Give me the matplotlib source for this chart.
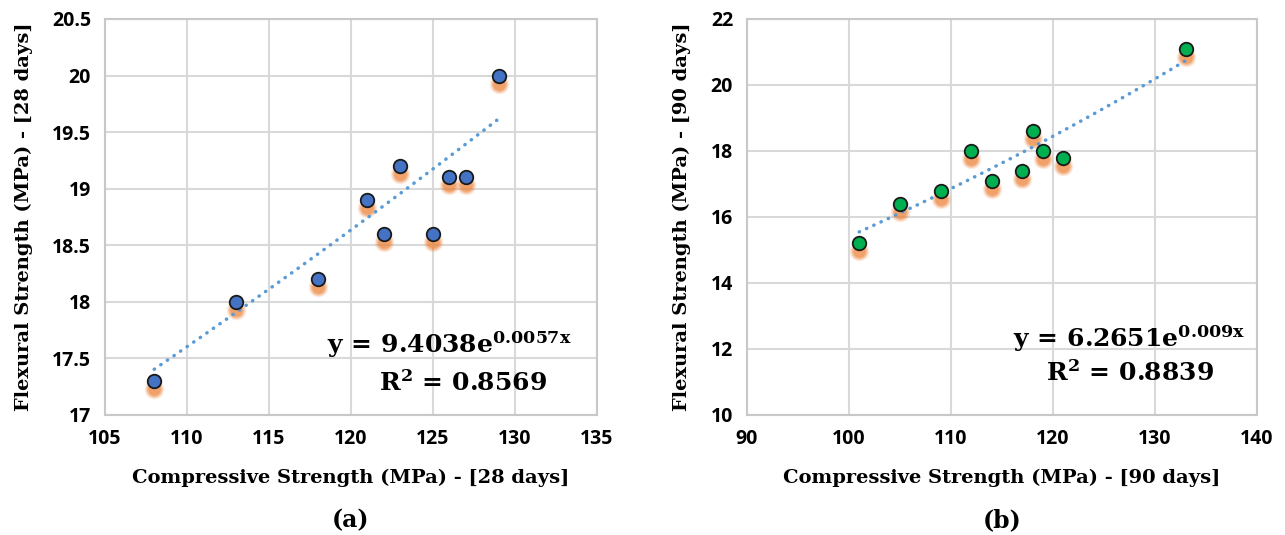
import numpy as np
import matplotlib
matplotlib.use("Agg")
import matplotlib.pyplot as plt
from matplotlib.transforms import ScaledTranslation

plt.rcParams['mathtext.fontset'] = 'custom'
plt.rcParams['mathtext.rm'] = 'DejaVu Serif:bold'
plt.rcParams['mathtext.bf'] = 'DejaVu Serif:bold'

# 28 days
comp_28 = [108, 113, 118, 121, 122, 123, 125, 126, 127, 129]
flex_28 = [17.3, 18.0, 18.2, 18.9, 18.6, 19.2, 18.6, 19.1, 19.1, 20.0]
a_28, b_28 = 9.4038, 0.0057

# 90 days
comp_90 = [101, 105, 109, 112, 114, 117, 118, 119, 121, 133]
flex_90 = [15.2, 16.4, 16.8, 18.0, 17.1, 17.4, 18.6, 18.0, 17.8, 21.1]
a_90, b_90 = 6.2651, 0.009

xticks_28 = [105, 110, 115, 120, 125, 130, 135]
yticks_28 = [17, 17.5, 18, 18.5, 19, 19.5, 20, 20.5]
xticks_90 = [90, 100, 110, 120, 130, 140]
yticks_90 = [10, 12, 14, 16, 18, 20, 22]

fig = plt.figure(figsize=(12.85, 5.35), dpi=100)
ax1 = fig.add_axes([105/1285, 1-415/535, 492/1285, 396/535])
ax2 = fig.add_axes([747/1285, 1-415/535, 510/1285, 396/535])

tick_font = dict(family='Open Sans', weight='bold', size=14)
lab_font = dict(family='DejaVu Serif', weight='bold', size=14)


def panel(ax, xs, ys, a, b, color, xticks, yticks, xlab, ylab, eq, r2, eqpos, r2pos, ylab_x, tag):
    ax.set_xlim(xticks[0], xticks[-1])
    ax.set_ylim(yticks[0], yticks[-1])
    ax.set_xticks(xticks)
    ax.set_yticks(yticks)
    ax.set_xticklabels([str(t) for t in xticks], **tick_font)
    ax.set_yticklabels([('%g' % t) for t in yticks], **tick_font)
    ax.tick_params(length=0, pad=10)
    ax.grid(True, color='#D9D9D9', linewidth=1.5)
    ax.set_axisbelow(True)
    for s in ax.spines.values():
        s.set_color('#C8C8C8')
        s.set_linewidth(1.5)

    # orange blurred shadow
    shift = ax.transData + ScaledTranslation(0, -8/100, fig.dpi_scale_trans)
    for sz, al in [(200, 0.14), (155, 0.22), (115, 0.3), (80, 0.4)]:
        ax.scatter(xs, ys, s=sz, color='#ED7D31', alpha=al, linewidths=0,
                   transform=shift, zorder=2)

    xt = np.linspace(min(xs), max(xs), 100)
    ax.plot(xt, a*np.exp(b*xt), color='#5B9BD5', linewidth=2.5,
            linestyle=(0, (0.1, 2.2)), dash_capstyle='round', zorder=3)

    ax.scatter(xs, ys, s=95, color=color, edgecolors='#1a1a1a',
               linewidths=1.3, zorder=4)

    ax.text(eqpos[0], eqpos[1], eq, fontsize=18, ha='center', va='center', zorder=5)
    ax.text(r2pos[0], r2pos[1], r2, fontsize=18, ha='center', va='center', zorder=5)

    ax.text(0.5, -0.159, xlab, transform=ax.transAxes, ha='center', va='center', **lab_font)
    ax.text(ylab_x, 0.5, ylab, transform=ax.transAxes, ha='center', va='center',
            rotation=90, **lab_font)
    ax.text(0.5, -0.266, tag, transform=ax.transAxes, ha='center', va='center',
            family='DejaVu Serif', weight='bold', size=17)


panel(ax1, comp_28, flex_28, a_28, b_28, '#4472C4', xticks_28, yticks_28,
      'Compressive Strength (MPa) - [28 days]', 'Flexural Strength (MPa) - [28 days]',
      r'$\mathbf{y\,=\,9.4038e^{0.0057x}}$', r'$\mathbf{R^2\,=\,0.8569}$',
      (126.0, 17.62), (126.8, 17.28), -0.165, '(a)')

panel(ax2, comp_90, flex_90, a_90, b_90, '#00B050', xticks_90, yticks_90,
      'Compressive Strength (MPa) - [90 days]', 'Flexural Strength (MPa) - [90 days]',
      r'$\mathbf{y\,=\,6.2651e^{0.009x}}$', r'$\mathbf{R^2\,=\,0.8839}$',
      (127.5, 12.3), (127.5, 11.27), -0.127, '(b)')

fig.savefig('out.png', dpi=100)
